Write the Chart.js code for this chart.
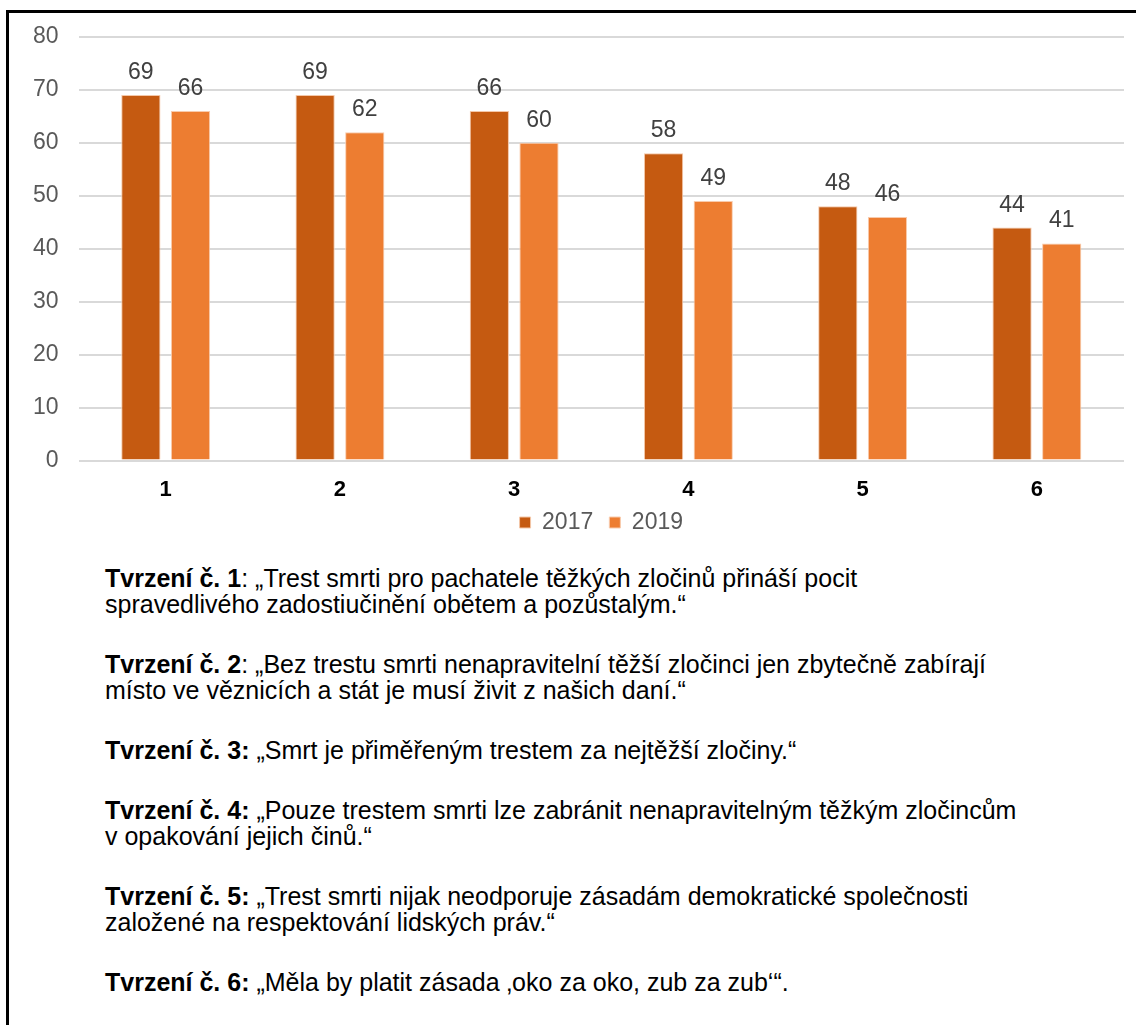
<!DOCTYPE html>
<html>
<head>
<meta charset="utf-8">
<script src="https://cdn.jsdelivr.net/npm/chart.js@4"></script>
<style>
  body { margin: 0; background: #fff; width: 1136px; height: 1025px; overflow: hidden; position: relative; font-family: "Liberation Sans", Arial, sans-serif; }
  #frame { position: absolute; left: 6px; top: 10px; width: 1140px; height: 1030px; border-top: 3px solid #000; border-left: 3px solid #000; }
  #wrap { position: absolute; left: 9px; top: 3px; width: 1127px; height: 541px; }
  #notes { position: absolute; left: 105px; top: 565px; width: 1030px; font-size: 25px; line-height: 26px; color: #000; white-space: nowrap; }
  #notes p { margin: 0 0 34px 0; }
</style>
</head>
<body>
<div id="frame"></div>
<div id="wrap"><canvas id="chart"></canvas></div>
<div id="notes">
  <p><b>Tvrzení č. 1</b>: „Trest smrti pro pachatele těžkých zločinů přináší pocit<br>spravedlivého zadostiučinění obětem a pozůstalým.“</p>
  <p><b>Tvrzení č. 2</b>: „Bez trestu smrti nenapravitelní těžší zločinci jen zbytečně zabírají<br>místo ve věznicích a stát je musí živit z našich daní.“</p>
  <p><b>Tvrzení č. 3:</b> „Smrt je přiměřeným trestem za nejtěžší zločiny.“</p>
  <p><b>Tvrzení č. 4:</b> „Pouze trestem smrti lze zabránit nenapravitelným těžkým zločincům<br>v opakování jejich činů.“</p>
  <p><b>Tvrzení č. 5:</b> „Trest smrti nijak neodporuje zásadám demokratické společnosti<br>založené na respektování lidských práv.“</p>
  <p><b>Tvrzení č. 6:</b> „Měla by platit zásada ‚oko za oko, zub za zub‘“.</p>
</div>
<script>
// data
const statements = ['1', '2', '3', '4', '5', '6'];
const values2017 = [69, 69, 66, 58, 48, 44];
const values2019 = [66, 62, 60, 49, 46, 41];

const fontFamily = '"Liberation Sans", Arial, sans-serif';

// draw value labels above each bar
const barLabels = {
    id: 'barLabels',
    afterDatasetsDraw(chart) {
        const ctx = chart.ctx;
        ctx.save();
        ctx.font = '23px ' + fontFamily;
        ctx.fillStyle = '#404040';
        ctx.textAlign = 'center';
        ctx.textBaseline = 'alphabetic';
        chart.data.datasets.forEach(function(ds, i){
            chart.getDatasetMeta(i).data.forEach(function(bar, j){
                ctx.fillText(ds.data[j], bar.x, bar.y - 16);
            });
        });
        ctx.restore();
    }
};

const chart = document.querySelector('#chart').getContext('2d');

new Chart(chart, {
    type: 'bar',
    data: {
        labels: statements,
        datasets: [
            {
                label: '2017',
                data: values2017,
                backgroundColor: '#C55A11',
                borderColor: '#F4C7A8',
                borderWidth: 1,
                categoryPercentage: 0.57,
                barPercentage: 0.79
            },
            {
                label: '2019',
                data: values2019,
                backgroundColor: '#ED7D31',
                borderColor: '#F8CBAD',
                borderWidth: 1,
                categoryPercentage: 0.57,
                barPercentage: 0.79
            }
        ]
    },
    options: {
        responsive: true,
        maintainAspectRatio: false,
        animation: false,
        layout: { padding: { top: 0, right: 12, left: 4, bottom: 0 } },
        plugins: {
            tooltip: { enabled: false },
            legend: {
                position: 'bottom',
                fullSize: false,
                labels: {
                    boxWidth: 11,
                    boxHeight: 11,
                    padding: 0,
                    color: '#595959',
                    font: { size: 23, family: fontFamily },
                    // a little room between the two legend entries
                    generateLabels: function(c){
                        const items = Chart.defaults.plugins.legend.labels.generateLabels(c);
                        items.forEach(function(it, i){
                            if (i < items.length - 1) it.text += '\u2002\u2009';
                        });
                        return items;
                    }
                }
            }
        },
        scales: {
            x: {
                grid: { display: false },
                border: { display: false },
                ticks: {
                    color: '#000',
                    padding: 8,
                    font: { size: 22, weight: 'bold', family: fontFamily }
                }
            },
            y: {
                min: 0,
                max: 80,
                ticks: {
                    stepSize: 10,
                    padding: 20,
                    color: '#595959',
                    font: { size: 23, family: fontFamily }
                },
                grid: { color: '#D9D9D9', lineWidth: 2, drawTicks: false },
                border: { display: false }
            }
        }
    },
    plugins: [barLabels]
});
</script>
</body>
</html>
